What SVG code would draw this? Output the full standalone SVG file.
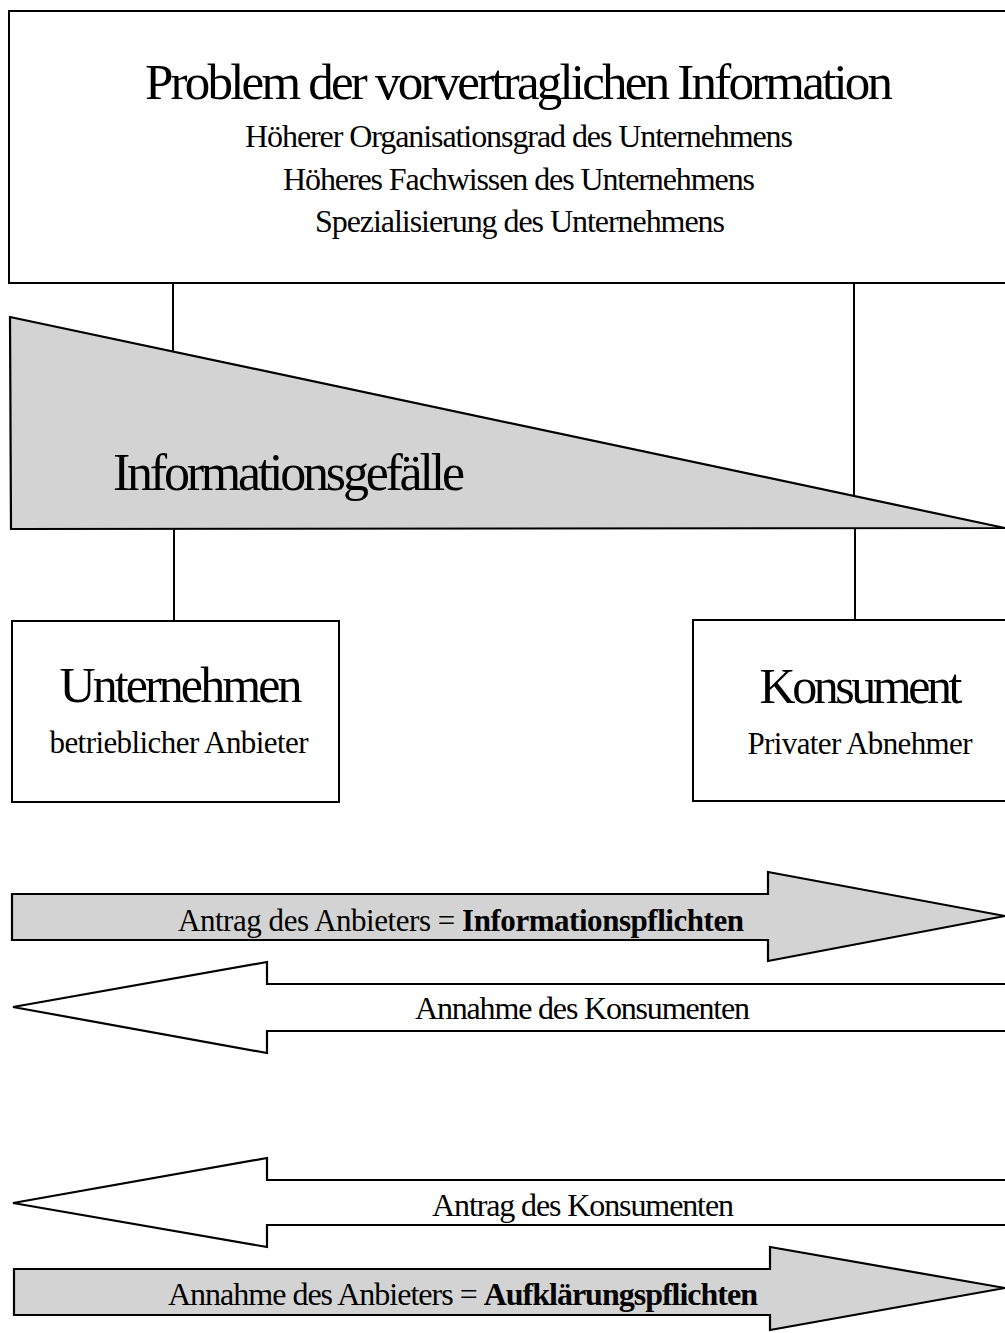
<svg xmlns="http://www.w3.org/2000/svg" width="1005" height="1333" viewBox="0 0 1005 1333">
<style>
.box{fill:#fff;stroke:#000;stroke-width:2}
.gray{fill:#d3d3d3;stroke:#000;stroke-width:2.2;stroke-linejoin:miter}
.white{fill:#fff;stroke:#000;stroke-width:2.2;stroke-linejoin:miter}
.conn{stroke:#000;stroke-width:2;fill:none}
text{font-family:"Liberation Serif","Times New Roman",serif;fill:#000}
.b{font-weight:bold}
</style>
<rect width="1005" height="1333" fill="#fff"/>
<g id="connectors">
<line class="conn" x1="173" y1="283" x2="173" y2="352"/>
<line class="conn" x1="854" y1="283" x2="854" y2="496"/>
<line class="conn" x1="174" y1="529" x2="174" y2="621"/>
<line class="conn" x1="855" y1="528" x2="855" y2="621"/>
</g>
<g id="problem">
<rect class="box" x="9" y="11" width="1010" height="272"/>
<text x="519" y="99" font-size="51" text-anchor="middle" textLength="748" lengthAdjust="spacing">Problem der vorvertraglichen Information</text>
<text x="519" y="147" font-size="32" text-anchor="middle" textLength="548" lengthAdjust="spacing">Höherer Organisationsgrad des Unternehmens</text>
<text x="519" y="190" font-size="32" text-anchor="middle" textLength="472" lengthAdjust="spacing">Höheres Fachwissen des Unternehmens</text>
<text x="520" y="232" font-size="32" text-anchor="middle" textLength="410" lengthAdjust="spacing">Spezialisierung des Unternehmens</text>
</g>
<g id="gefaelle">
<polygon class="gray" points="10,317 1005,528 11,529"/>
<text x="113" y="490" font-size="52" textLength="352" lengthAdjust="spacing">Informationsgefälle</text>
</g>
<g id="unternehmen">
<rect class="box" x="12" y="621" width="327" height="181"/>
<text x="181" y="702" font-size="50" text-anchor="middle" textLength="243" lengthAdjust="spacing">Unternehmen</text>
<text x="179" y="753" font-size="31" text-anchor="middle" textLength="259" lengthAdjust="spacing">betrieblicher Anbieter</text>
</g>
<g id="konsument">
<rect class="box" x="693" y="620" width="330" height="181"/>
<text x="861" y="703" font-size="50" text-anchor="middle" textLength="203" lengthAdjust="spacing">Konsument</text>
<text x="860" y="754" font-size="31" text-anchor="middle" textLength="225" lengthAdjust="spacing">Privater Abnehmer</text>
</g>
<g id="antrag-anbieter">
<polygon class="gray" points="12,894 768,894 768,872 1005,916 768,961 768,940 12,940"/>
<text x="178" y="931" font-size="31" textLength="566" lengthAdjust="spacing">Antrag des Anbieters = <tspan class="b">Informationspflichten</tspan></text>
</g>
<g id="annahme-konsument">
<polygon class="white" points="1020,984 267,984 267,962 13,1007 267,1053 267,1031 1020,1031"/>
<text x="415" y="1019" font-size="32" textLength="335" lengthAdjust="spacing">Annahme des Konsumenten</text>
</g>
<g id="antrag-konsument">
<polygon class="white" points="1020,1180 267,1180 267,1158 13,1203 267,1247 267,1225 1020,1225"/>
<text x="432" y="1216" font-size="32" textLength="302" lengthAdjust="spacing">Antrag des Konsumenten</text>
</g>
<g id="annahme-anbieter">
<polygon class="gray" points="14,1269 770,1269 770,1247 1005,1288 770,1330 770,1315 14,1315"/>
<text x="168" y="1305" font-size="32" textLength="590" lengthAdjust="spacing">Annahme des Anbieters = <tspan class="b">Aufklärungspflichten</tspan></text>
</g>
</svg>
